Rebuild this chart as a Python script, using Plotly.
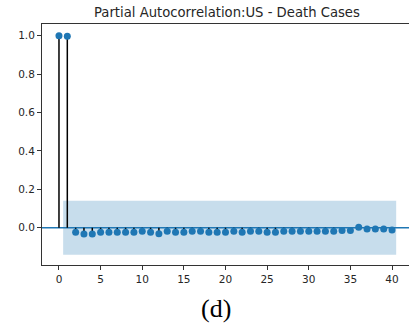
import plotly.graph_objects as go

lags = list(range(0, 41))
pacf = [1.0, 0.997, -0.024, -0.032, -0.032, -0.024, -0.024, -0.024, -0.024, -0.024,
        -0.018, -0.024, -0.031, -0.018, -0.024, -0.024, -0.018, -0.018, -0.024, -0.024,
        -0.024, -0.018, -0.024, -0.018, -0.018, -0.024, -0.024, -0.018, -0.018, -0.018,
        -0.018, -0.018, -0.018, -0.018, -0.014, -0.014, 0.002, -0.007, -0.007, -0.007,
        -0.012]
conf = 0.14
title = "Partial Autocorrelation:US - Death Cases"
caption = "(d)"
xticks = [0, 5, 10, 15, 20, 25, 30, 35, 40]
yticks = [0.0, 0.2, 0.4, 0.6, 0.8, 1.0]

blue = "#1f77b4"

# stems
sx, sy = [], []
for l, v in zip(lags, pacf):
    sx += [l, l, None]
    sy += [0, v, None]

band_x = [lags[1] - 0.5, lags[-1] + 0.5, lags[-1] + 0.5, lags[1] - 0.5, lags[1] - 0.5]
band_y = [conf, conf, -conf, -conf, conf]

fig = go.Figure()
fig.add_trace(go.Scatter(x=band_x, y=band_y, fill="toself", mode="none",
                         fillcolor="rgba(31,119,180,0.25)", hoverinfo="skip"))
fig.add_trace(go.Scatter(x=[-2.04, 42.04], y=[0, 0], mode="lines",
                         line=dict(color=blue, width=1.5), hoverinfo="skip"))
fig.add_trace(go.Scatter(x=sx, y=sy, mode="lines", line=dict(color="black", width=1.5)))
fig.add_trace(go.Scatter(x=lags, y=pacf, mode="markers",
                         marker=dict(color=blue, size=7)))

axis_common = dict(showgrid=False, zeroline=False, showline=True, linecolor="#333333",
                   linewidth=1, ticks="outside", ticklen=4, tickcolor="#333333",
                   tickfont=dict(family="DejaVu Sans", size=10.5, color="#262626"))

fig.update_xaxes(range=[-2.04, 42.04], tickvals=xticks, mirror=True, **axis_common)
fig.update_yaxes(range=[-0.194, 1.061], tickvals=yticks, tickformat=".1f", **axis_common)

fig.add_annotation(x=20.2, xref="x", y=1 + (24 - 13) / 241, yref="paper", yanchor="middle",
                   text=title, showarrow=False,
                   font=dict(family="DejaVu Sans", size=13.2, color="#262626"))
fig.add_annotation(x=18.8, xref="x", y=-(308 - 265) / 241, yref="paper", yanchor="middle",
                   text=caption, showarrow=False,
                   font=dict(family="Liberation Serif", size=26, color="black"))

fig.update_layout(width=409, height=325, showlegend=False,
                  margin=dict(l=42, r=0, t=24, b=60),
                  plot_bgcolor="white", paper_bgcolor="white")

fig.write_html("out.html")
